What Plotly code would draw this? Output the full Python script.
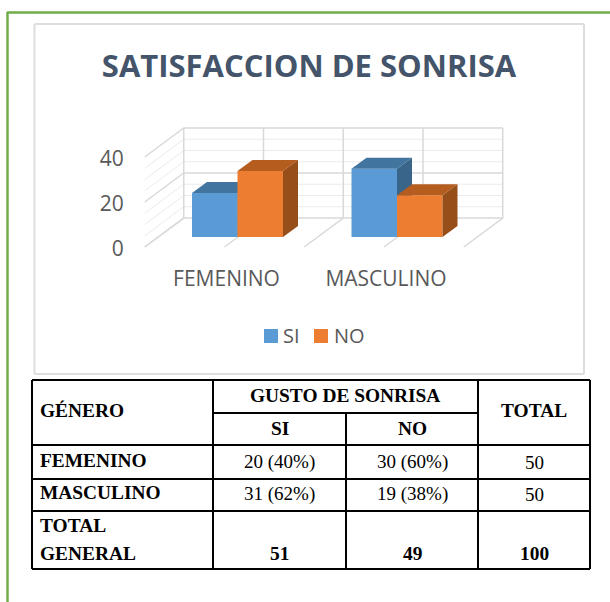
import plotly.graph_objects as go

# ---- data ----
categories = ["FEMENINO", "MASCULINO"]
si_values = [20, 31]
no_values = [30, 19]
series_names = ["SI", "NO"]
y_ticks = [0, 20, 40]
title_text = "SATISFACCION DE SONRISA"

table_head_top = ["GÉNERO", "GUSTO DE SONRISA", "TOTAL"]
table_head_sub = ["SI", "NO"]
row_labels = ["FEMENINO", "MASCULINO"]
row_si = ["20 (40%)", "31 (62%)"]
row_no = ["30 (60%)", "19 (38%)"]
row_total = ["50", "50"]
total_label = ["TOTAL", "GENERAL"]
total_values = ["51", "49", "100"]

# ---- layout constants (pixels) ----
W, H = 610, 602
DOM_L, DOM_R, DOM_T, DOM_B = 135, 510, 118, 252
CAT_PX = 159.5           # pixels per category
WALL_X0, WALL_Y0, WALL_PPU = 224.5, 247, 2.25   # front plane: cat 0 centre, value 0, px per unit
BAR_X0, BAR_Y0, BAR_PPU = 237.5, 237, 2.2       # bar plane
WALL_DX, WALL_DY = 39 / CAT_PX, 29 / WALL_PPU   # floor depth
BAR_W = 45.5 / CAT_PX
BAR_DX, BAR_DY = 15 / CAT_PX, 11 / BAR_PPU      # bar depth

px = lambda x: x / W
py = lambda y: 1 - y / H


def xr(x0):
    return [(DOM_L - x0) / CAT_PX, (DOM_R - x0) / CAT_PX]


def yr(y0, ppu):
    return [(y0 - DOM_B) / ppu, (y0 - DOM_T) / ppu]


fig = go.Figure()

# ---- walls and floor grid (front-plane axes) ----
MAJOR, MINOR = "#D9D9D9", "#EBEBEB"


def wall(xs, ys, color, width):
    fig.add_trace(go.Scatter(x=xs, y=ys, mode="lines", line=dict(color=color, width=width),
                             hoverinfo="skip", showlegend=False, xaxis="x", yaxis="y"))


x_left, x_right = -0.5, 1.5
for v in range(0, 45, 5):
    major = v % 20 == 0
    c, w = (MAJOR, 1.5) if major else (MINOR, 1)
    wall([x_left, x_left + WALL_DX, x_right + WALL_DX],
         [v, v + WALL_DY, v + WALL_DY], c, w)
for k in [-0.5, 0, 0.5, 1, 1.5]:
    wall([k, k + WALL_DX, k + WALL_DX], [0, WALL_DY, 40 + WALL_DY], MAJOR, 1.5)


# ---- 3-D bars: each series has its own overlaid layer ----
def bars(values, name, offset, front, top, side, xa, ya):
    fig.add_trace(go.Bar(x=[0, 1], y=values, name=name, width=BAR_W, offset=offset,
                         marker=dict(color=front, line=dict(width=0)),
                         xaxis=xa, yaxis=ya, showlegend=False))
    for i, v in enumerate(values):
        l = i + offset
        r = l + BAR_W
        fig.add_trace(go.Scatter(
            x=[l, l + BAR_DX, r + BAR_DX, r, l], y=[v, v + BAR_DY, v + BAR_DY, v, v],
            fill="toself", fillcolor=top, mode="lines", line=dict(width=0),
            hoverinfo="skip", showlegend=False, xaxis=xa, yaxis=ya))
        fig.add_trace(go.Scatter(
            x=[r, r + BAR_DX, r + BAR_DX, r, r], y=[v, v + BAR_DY, BAR_DY, 0, v],
            fill="toself", fillcolor=side, mode="lines", line=dict(width=0),
            hoverinfo="skip", showlegend=False, xaxis=xa, yaxis=ya))


SI_COLOR, NO_COLOR = "#5B9BD5", "#ED7D31"
bars(si_values, series_names[0], -BAR_W, SI_COLOR, "#41759F", "#386589", "x2", "y2")
bars(no_values, series_names[1], 0, NO_COLOR, "#B55D1F", "#974F1A", "x3", "y3")

dom_x = [px(DOM_L), px(DOM_R)]
dom_y = [py(DOM_B), py(DOM_T)]
hidden = dict(visible=False, fixedrange=True, automargin=False)
TEXT = "#595959"
SANS = "Open Sans"

layout_axes = dict(
    xaxis=dict(domain=dom_x, range=xr(WALL_X0), tickmode="array", tickvals=[0, 1], ticktext=categories,
               showgrid=False, zeroline=False, showline=False, ticks="outside", ticklen=8,
               automargin=False, ticklabelshift=2,
               tickcolor="rgba(0,0,0,0)", tickfont=dict(family=SANS, size=21, color=TEXT), anchor="y"),
    yaxis=dict(domain=dom_y, range=[(WALL_Y0 - DOM_B) / WALL_PPU, (WALL_Y0 - DOM_T) / WALL_PPU],
               tickmode="array", tickvals=y_ticks, showgrid=False, zeroline=False, showline=False,
               ticks="outside", ticklen=6, tickcolor="rgba(0,0,0,0)", automargin=False,
               ticklabelshift=2,
               tickfont=dict(family=SANS, size=21, color=TEXT), anchor="x"),
    xaxis2=dict(domain=dom_x, range=xr(BAR_X0), overlaying="x", anchor="y2", **hidden),
    yaxis2=dict(domain=dom_y, range=yr(BAR_Y0, BAR_PPU), overlaying="y", anchor="x2", **hidden),
    xaxis3=dict(domain=dom_x, range=xr(BAR_X0), overlaying="x", anchor="y3", **hidden),
    yaxis3=dict(domain=dom_y, range=yr(BAR_Y0, BAR_PPU), overlaying="y", anchor="x3", **hidden),
)

# ---- frames and table rules ----
shapes = []


def rule(x0, y0, x1, y1, color="#000000", width=2):
    shapes.append(dict(type="line", xref="paper", yref="paper", x0=px(x0), y0=py(y0), x1=px(x1), y1=py(y1),
                       line=dict(color=color, width=width), layer="below"))


GREEN = "#70AD47"
rule(7, 12.5, 610, 12.5, GREEN, 2.5)
rule(7.5, 12, 7.5, 602, GREEN, 2.5)
GRAY = "#DEDEDE"
rule(34.5, 24, 584, 24, GRAY, 2)
rule(34.5, 374, 584, 374, GRAY, 2)
rule(34.5, 24, 34.5, 374, GRAY, 2)
rule(584, 24, 584, 374, GRAY, 2)

T_L, T_R = 32, 590
C1, C2, C3 = 213, 346, 478
R0, R1, R2, R3, R4, R5 = 380, 413, 445, 479, 511, 569
for y in (R0, R2, R3, R4, R5):
    rule(T_L, y, T_R, y)
rule(C1, R1, C3, R1)
for x in (T_L, C1, C3, T_R):
    rule(x, R0, x, R5)
rule(C2, R1, C2, R5)

# ---- table text ----
SERIF = "Liberation Serif"
annos = []


def txt(s, x, y, bold=False, anchor="center"):
    annos.append(dict(text=f"<b>{s}</b>" if bold else s, xref="paper", yref="paper",
                      x=px(x), y=py(y), xanchor=anchor, yanchor="middle", showarrow=False,
                      font=dict(family=SERIF, size=19.4 if bold else 19, color="#000000")))


MID1, MID2, MID3 = (C1 + C2) / 2, (C2 + C3) / 2, (C3 + T_R) / 2
LABEL_X = 38
txt(table_head_top[0], LABEL_X, 410.5, True, "left")
txt(table_head_top[1], 345, 395, True)
txt(table_head_top[2], 534, 410, True)
txt(table_head_sub[0], MID1, 428, True)
txt(table_head_sub[1], MID2, 428, True)
for i, y in enumerate((462, 494)):
    txt(row_labels[i], LABEL_X, y - 1.5, True, "left")
    txt(row_si[i], MID1, y)
    txt(row_no[i], MID2, y)
    txt(row_total[i], MID3, y)
txt(total_label[0], LABEL_X, 525, True, "left")
txt(total_label[1], LABEL_X, 553, True, "left")
for s, x in zip(total_values, (MID1, MID2, MID3)):
    txt(s, x, 553, True)

# ---- legend ----
for name, color, sq_x, tx_x in zip(series_names, (SI_COLOR, NO_COLOR), (264, 314), (281, 332)):
    shapes.append(dict(type="rect", xref="paper", yref="paper", x0=px(sq_x), x1=px(sq_x + 14),
                       y0=py(343), y1=py(329), fillcolor=color, line=dict(width=0), layer="below"))
    annos.append(dict(text=name, xref="paper", yref="paper", x=px(tx_x), y=py(335.5), xanchor="left",
                      yanchor="middle", showarrow=False, font=dict(family=SANS, size=20, color=TEXT)))

fig.update_layout(
    width=W, height=H, autosize=False, margin=dict(l=0, r=0, t=0, b=0),
    paper_bgcolor="white", plot_bgcolor="rgba(0,0,0,0)",
    title=dict(text=f"<b>{title_text}</b>", x=px(309), y=py(66), xanchor="center", yanchor="middle",
               font=dict(family=SANS, size=31, color="#44546A")),
    showlegend=False,
    shapes=shapes, annotations=annos, **layout_axes,
)

fig.write_html("out.html", config=dict(displayModeBar=False),
               post_script="document.body.style.margin='0';document.body.style.overflow='hidden';")
